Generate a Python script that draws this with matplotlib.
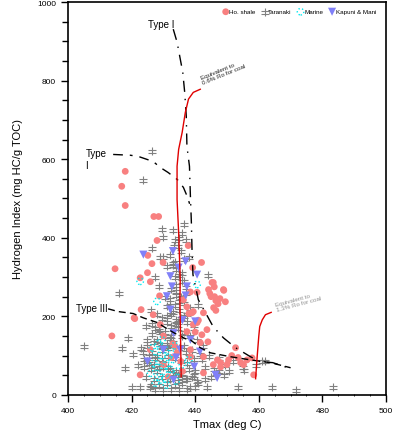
import numpy as np
import matplotlib
matplotlib.use('Agg')
import matplotlib.pyplot as plt
from matplotlib.path import Path

plt.rcParams['font.family'] = ['Liberation Sans', 'DejaVu Sans']

# Hot shale (pink circles)
shale_t = [418.0, 416.9, 418.0, 427.0, 428.5, 428.0, 437.8, 425.1, 442.0, 414.8, 429.9, 426.4,
           439.2, 425.0, 422.7, 445.7, 449.0, 440.6, 438.5, 428.8, 425.9, 444.2, 445.0, 446.5,
           447.2, 445.8, 444.6, 446.0, 449.5, 423.0, 421.0, 426.8, 437.4, 438.0, 439.4, 413.8,
           420.8, 422.7, 425.9, 429.0, 430.0, 431.5, 439.4, 438.5, 441.6, 442.6, 443.7, 442.6,
           447.0, 448.0, 450.0, 452.7, 454.3, 455.2, 456.3, 457.9, 458.4, 450.5, 445.7, 448.0,
           436.3, 439.0, 437.4, 440.6, 442.1, 438.5, 433.7, 434.3, 448.9, 446.1, 445.3, 442.6,
           430.0, 433.0, 436.0, 440.0, 446.5, 447.8, 451.5, 453.5, 444.0, 441.0, 435.5, 432.5]
shale_hi = [569, 531, 482, 454, 454, 393, 380, 355, 337, 321, 337, 334,
            324, 311, 298, 286, 266, 261, 262, 252, 288, 268, 250, 240,
            232, 222, 258, 275, 237, 217, 194, 204, 224, 207, 212, 150,
            196, 51, 115, 179, 77, 46, 179, 115, 133, 97, 166, 56,
            89, 82, 77, 120, 82, 77, 89, 94, 51, 89, 77, 71,
            242, 209, 161, 184, 153, 97, 122, 107, 268, 250, 286, 209,
            150, 130, 60, 160, 215, 245, 100, 95, 135, 190, 85, 95]

# Taranaki (grey)
tara_t = [405.0, 417.0, 418.8, 418.0, 420.0, 415.9, 422.7, 425.9, 443.7, 464.3, 471.6, 483.2,
          453.6, 461.0, 455.2, 426.4, 423.7, 429.5, 430.0, 436.4, 435.9, 437.0, 438.0, 426.4,
          429.0, 433.2, 433.8, 444.0, 428.5, 432.2, 431.1, 427.4, 433.5, 434.0, 436.0, 437.0,
          430.5, 432.0, 435.0, 438.5, 426.0, 428.0, 431.0, 433.0, 435.5, 437.5, 439.5, 441.0,
          424.5, 426.5, 428.5, 430.5, 432.5, 434.5, 436.5, 438.5, 440.5, 442.5, 425.0, 427.0,
          429.0, 431.0, 433.0, 435.0, 437.0, 439.0, 441.5, 444.5, 423.5, 425.5, 427.5, 429.5,
          431.5, 433.5, 435.5, 437.5, 439.5, 422.0, 424.0, 426.0, 428.0, 430.0, 432.0, 434.0,
          436.0, 438.0, 440.0, 443.0, 446.0, 424.5, 427.0, 429.5, 432.0, 434.5, 437.0, 439.5,
          426.0, 428.5, 431.0, 433.5, 436.0, 438.5, 441.0, 446.5, 450.5, 455.0, 459.0, 462.0,
          430.0, 433.0, 436.5, 432.5, 434.0, 435.0, 433.0, 434.5, 431.5, 436.0, 420.5, 423.0,
          425.0, 442.0, 447.5, 449.5, 452.0,
          433.5, 434.5, 435.5, 436.5, 433.0, 434.0, 435.0, 436.0, 437.0, 434.0, 435.5, 436.5,
          432.0, 433.5, 435.0, 436.5, 431.0, 432.5, 434.0, 437.5, 429.5, 431.0, 432.5, 434.0,
          427.5, 429.0, 430.5, 432.0, 426.5, 428.0, 429.5, 431.0, 425.0, 426.5, 428.0, 429.5,
          424.0, 425.5, 427.0, 428.5, 430.0, 431.5, 433.0, 434.5, 436.0, 437.5, 439.0, 440.5,
          427.5, 430.0, 432.5, 435.0, 437.5, 440.0, 443.0, 445.0, 447.5, 449.0, 436.5, 438.0]
tara_hi = [125, 120, 145, 69, 20, 260, 20, 20, 20, 20, 13, 20,
           20, 85, 64, 620, 548, 421, 401, 434, 413, 395, 352, 375,
           352, 378, 339, 306, 276, 357, 327, 301, 300, 280, 310, 260,
           250, 230, 240, 220, 215, 205, 200, 210, 195, 185, 170, 230,
           175, 180, 165, 160, 150, 170, 160, 150, 140, 125, 140, 135,
           130, 125, 135, 120, 110, 115, 105, 100, 110, 100, 95, 90,
           100, 95, 85, 80, 90, 75, 70, 65, 60, 70, 65, 60,
           55, 65, 60, 70, 65, 45, 40, 45, 40, 35, 40, 50,
           25, 25, 30, 25, 30, 20, 30, 55, 60, 70, 75, 85,
           350, 330, 290, 270, 255, 400, 420, 185, 120, 150, 105, 120,
           85, 90, 95, 75, 85,
           395, 380, 365, 345, 335, 320, 305, 290, 275, 265, 250, 235,
           245, 230, 215, 200, 225, 205, 190, 205, 195, 185, 175, 180,
           170, 160, 150, 145, 155, 140, 125, 130, 125, 110, 100, 115,
           90, 80, 75, 70, 80, 70, 55, 50, 45, 40, 45, 35,
           15, 15, 15, 15, 15, 20, 40, 45, 60, 50, 125, 100]

# Marine (cyan open circles)
mar_t = [422.7, 428.0, 440.6, 426.5, 427.5, 428.5, 429.5, 430.5, 431.5, 432.5, 433.5, 427.0,
         428.0, 429.0, 430.0, 431.0, 432.0, 433.0, 426.0, 428.5, 430.5, 432.5, 434.0, 436.0,
         438.0, 429.0, 431.0, 427.5, 429.5, 434.5]
mar_hi = [289, 238, 281, 120, 110, 130, 100, 115, 95, 105, 125, 80,
          70, 85, 60, 75, 65, 90, 55, 45, 40, 50, 35, 77,
          89, 38, 25, 30, 140, 60]

# Kapuni and Mangahewa (blue triangles)
kap_t = [423.7, 433.0, 434.8, 437.0, 432.2, 440.6, 437.4, 432.7, 437.0, 431.1, 432.2, 440.0,
         433.2, 425.0, 439.7, 446.4, 446.9, 433.2, 435.3, 430.0, 436.0, 438.5, 434.0, 441.5]
kap_hi = [357, 366, 324, 340, 302, 306, 276, 276, 253, 251, 217, 187,
          157, 85, 72, 51, 43, 38, 115, 115, 190, 140, 95, 110]

# kerogen type evolution paths
type1_t = [433.1, 434.3, 435.3, 436.1, 436.7, 437.2, 437.4, 438.2, 438.5, 438.8, 439.0, 439.3,
           441.0, 445.7, 448.9, 452.7, 457.4, 460.6, 464.4, 469.1]
type1_hi = [931, 898, 855, 821, 770, 709, 633, 582, 505, 439, 370, 306,
            242, 173, 145, 120, 97, 84, 82, 69]
type2_t = [414.2, 419.6, 422.1, 426.8, 429.0, 431.5, 434.4, 436.3, 437.5, 438.5]
type2_hi = [612, 610, 607, 594, 579, 566, 548, 528, 505, 480]
type3_t = [412.6, 415.8, 420.5, 423.7, 428.1, 431.2, 434.4, 436.9, 438.5, 441.6, 444.8, 451.1,
           457.4, 463.7, 470.0]
type3_hi = [219, 212, 207, 196, 184, 168, 153, 143, 140, 120, 107, 97,
            89, 82, 69]

# maturity lines
ro06_t = [441.6, 439.4, 437.9, 436.9, 435.9, 434.8, 434.3, 434.3, 434.8, 435.3, 435.2, 435.6]
ro06_hi = [778, 770, 753, 719, 668, 625, 582, 497, 413, 293, 242, 46]
ro13_t = [463.9, 462.1, 461.1, 460.3, 460.0, 459.5, 459.0]
ro13_hi = [210, 204, 191, 174, 149, 98, 41]

# plus-with-bar marker for the grey points
tara_marker = Path([(0, -1), (0, 1), (-1, 0.3), (1, 0.3), (-1, -0.5), (1, -0.5)],
                   [Path.MOVETO, Path.LINETO, Path.MOVETO, Path.LINETO, Path.MOVETO, Path.LINETO])

fig = plt.figure(figsize=(3.94, 4.35), dpi=100)
ax = fig.add_axes([0.1726, 0.090, 0.807, 0.903])

h_tara = ax.scatter(tara_t, tara_hi, marker=tara_marker, s=26, color='#808080', linewidths=0.8,
                    label='Taranaki', zorder=2)
h_shale = ax.scatter(shale_t, shale_hi, marker='o', s=24, color='#f88080', edgecolors='none',
                     label='Ho. shale', zorder=3)
h_mar = ax.scatter(mar_t, mar_hi, marker='o', s=22, facecolors='none', edgecolors='#00e8f0',
                   linestyle=':', linewidths=1.0, label='Marine', zorder=3)
h_kap = ax.scatter(kap_t, kap_hi, marker='v', s=34, color='#8080f8', edgecolors='none',
                   label='Kapuni & Mani', zorder=3)

ax.plot(type1_t, type1_hi, color='black', lw=1.0, ls=(0, (8, 5, 1, 5)), zorder=4)
ax.plot(type2_t, type2_hi, color='black', lw=1.0, ls=(0, (7, 5, 2, 5)), zorder=4)
ax.plot(type3_t, type3_hi, color='black', lw=1.0, ls=(0, (5, 3)), zorder=4)
ax.plot(ro06_t, ro06_hi, color='#e00000', lw=1.0, zorder=4)
ax.plot(ro13_t, ro13_hi, color='#e00000', lw=1.0, zorder=4)

ax.text(433.5, 945, 'Type I', fontsize=7, ha='right', va='center')
ax.text(405.5, 600, 'Type\nI', fontsize=7, ha='left', va='center', linespacing=1.2)
ax.text(402.5, 222, 'Type III', fontsize=7, ha='left', va='center')
ax.text(441.5, 790, 'Equivalent to\n0.6% Ro for coal', fontsize=4.5, rotation=22,
        ha='left', va='bottom', color='#202020', linespacing=1.0)
ax.text(465.0, 212, 'Equivalent to\n1.3% Ro for coal', fontsize=4.5, rotation=15,
        ha='left', va='bottom', color='#909090', linespacing=1.0)

ax.set_xlim(400, 500)
ax.set_ylim(0, 1000)
ax.set_xticks(np.arange(400, 501, 20))
ax.set_xticks(np.arange(400, 501, 5), minor=True)
ax.set_yticks(np.arange(0, 1001, 200))
ax.set_yticks(np.arange(0, 1001, 50), minor=True)
ax.tick_params(axis='both', which='major', labelsize=6, length=5, width=1)
ax.tick_params(axis='y', which='minor', length=4, width=1)
ax.tick_params(axis='x', which='minor', length=2, width=0.6, direction='inout')
for s in ax.spines.values():
    s.set_linewidth(1.2)

ax.set_xlabel('Tmax (deg C)', fontsize=8)
ax.set_ylabel('Hydrogen Index (mg HC/g TOC)', fontsize=8, labelpad=10)

ax.legend(handles=[h_shale, h_tara, h_mar, h_kap], loc='upper right', ncol=4, fontsize=4.5,
          frameon=False, handletextpad=0.1, columnspacing=0.9, handlelength=1.0,
          borderaxespad=0.4, bbox_to_anchor=(0.985, 0.995))

fig.savefig('out.png', dpi=100)
